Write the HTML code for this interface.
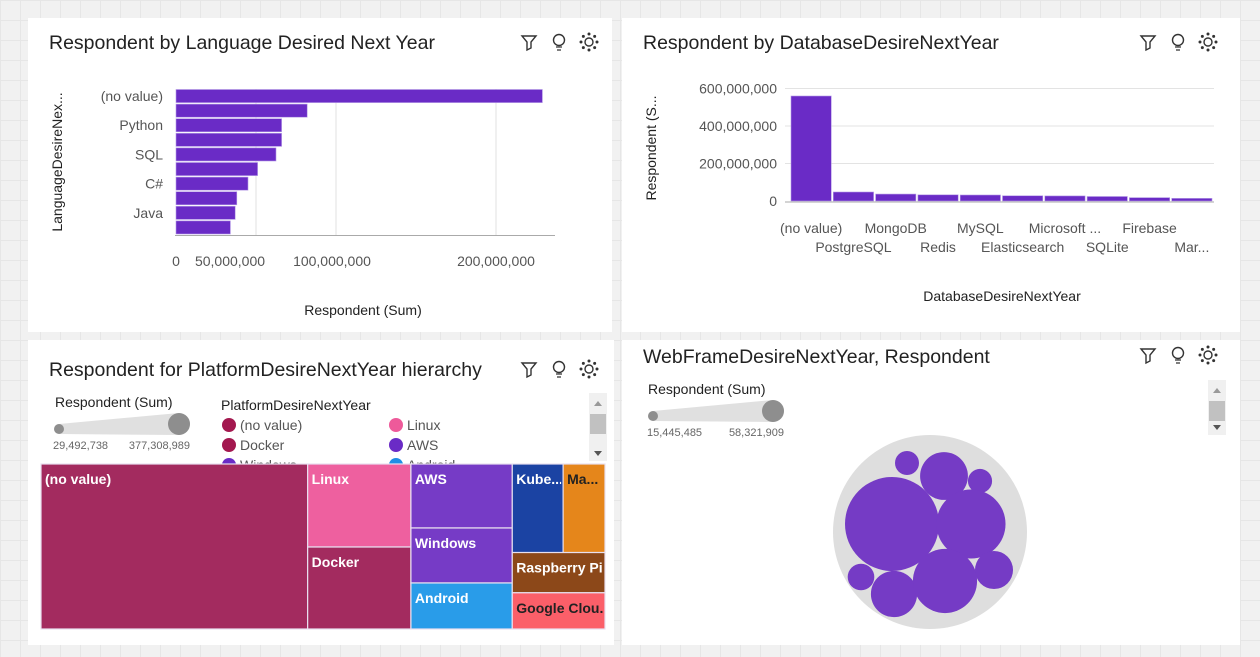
<!DOCTYPE html>
<html><head><meta charset="utf-8">
<style>
body{margin:0;width:1260px;height:657px;overflow:hidden;background:#f1f1f1;font-family:"Liberation Sans",sans-serif;
background-image:linear-gradient(#e6e6e6 1px,transparent 1px),linear-gradient(90deg,#e6e6e6 1px,transparent 1px);background-size:20px 20px;}
.panel{position:absolute;background:#fff}
svg{position:absolute;left:0;top:0}
text{font-family:"Liberation Sans",sans-serif}
</style></head><body>
<div class="panel" style="left:28px;top:18px;width:584px;height:314px"></div>
<div class="panel" style="left:622px;top:18px;width:618px;height:314px"></div>
<div class="panel" style="left:28px;top:340px;width:586px;height:305px"></div>
<div class="panel" style="left:622px;top:340px;width:618px;height:305px"></div>
<svg id="s" width="1260" height="657"><defs id="defs"></defs></svg>
<script>
// ---- data ----
const langCats=["(no value)","","Python","","SQL","","C#","","Java",""];
const langVals=[229,82,66,66,62.5,51,45,38,37,34];
const langTicks=[0,50,100,200];
const langTickLabels=["0","50,000,000","100,000,000","200,000,000"];
const dbCats=["(no value)","PostgreSQL","MongoDB","Redis","MySQL","Elasticsearch","Microsoft ...","SQLite","Firebase","Mar..."];
const dbVals=[560,48,37,33,32,28,27,24,18,14];
const dbTicks=[0,200,400,600];
const dbTickLabels=["0","200,000,000","400,000,000","600,000,000"];
const tmCats=["(no value)","Linux","Docker","AWS","Windows","Android","Kube...","Ma...","Raspberry Pi","Google Clou..."];
const tmVals=[377.3,73.5,72.6,55.6,47.8,40,38.6,31.8,32,28.8];
const tmColors=["#a32b5f","#ee609f","#a32b5f","#763bc6","#763bc6","#299ce9","#1b43a3","#e5861b","#8c4819","#fb5f69"];
const bubbleVals=[58.3,15.4,30,15.5,43,17,29,40,24];
const bubbleLayout=[[892,524],[907,463],[944,476],[980,481],[971,524],[861,577],[894,594],[945,581],[994,570]];

const S=document.getElementById('s');const NS='http://www.w3.org/2000/svg';const D=document.getElementById('defs');
function el(t,a,txt,par){const e=document.createElementNS(NS,t);for(const k in a)e.setAttribute(k,a[k]);if(txt!==undefined)e.textContent=txt;(par||S).appendChild(e);return e;}
function T(x,y,s,o){o=o||{};const e=el('text',{x:x,y:y,'font-size':o.fs||12,fill:o.fill||'#555','text-anchor':o.a||'start','font-weight':o.w||'normal'},s);if(o.tr)e.setAttribute('transform',o.tr);return e;}

[["Respondent by Language Desired Next Year",49,49,'lang-title'],["Respondent by DatabaseDesireNextYear",643,49,'db-title'],
 ["Respondent for PlatformDesireNextYear hierarchy",49,376,'platform-title'],["WebFrameDesireNextYear, Respondent",643,363,'webframe-title']].forEach(t=>{
 const e=T(t[1],t[2],t[0],{fs:19.5,fill:'#222'});
 
 
});
function icons(x,y,p){
 const f=el('path',{d:`M${x-7} ${y-6}h14l-5 6v6l-4 2v-8z`,fill:'none',stroke:'#333','stroke-width':1.4});
 
 
 const b=el('circle',{cx:x+30,cy:y-2,r:5.5,fill:'none',stroke:'#333','stroke-width':1.4});
 
 
 el('path',{d:`M${x+27} ${y+5}h6M${x+28} ${y+8}h4`,stroke:'#333','stroke-width':1.3});
 const g=el('circle',{cx:x+60,cy:y,r:4,fill:'none',stroke:'#333','stroke-width':1.4});
 
 
 for(let i=0;i<8;i++){const a=i*Math.PI/4;el('circle',{cx:x+60+8*Math.cos(a),cy:y+8*Math.sin(a),r:1.5,fill:'#333'});}
}
icons(529,42,'lang');icons(1148,42,'db');icons(529,369,'platform');icons(1148,355,'webframe');

// ---- language bar chart ----
const lx=v=>176+v*80/50; const bandTop=89,band=14.6;
langTicks.forEach((t,i)=>{ if(t>0) el('line',{x1:lx(t),x2:lx(t),y1:89,y2:235,stroke:'#e0e0e0'});
 const l=T(lx(t)+(i==1?-26:i==2?-4:0),266,langTickLabels[i],{fs:14,a:'middle'});
 
 });
langVals.forEach((v,i)=>{const r=el('rect',{x:176,y:bandTop+i*band+0.5,width:lx(v)-176,height:band-1.5,fill:'#6a2bc6',stroke:'#b49ae6','stroke-width':0.6});
 
 
 if(langCats[i]){const l=T(163,bandTop+i*band+12,langCats[i],{fs:14,a:'end'});
 
 }});
el('line',{x1:175,x2:555,y1:235.5,y2:235.5,stroke:'#aaa'});
let e=T(363,315,"Respondent (Sum)",{fs:14,fill:'#222',a:'middle'});


e=T(62,162,"LanguageDesireNex...",{fs:14,fill:'#222',a:'middle',tr:'rotate(-90 62 162)'});



// ---- database bar chart ----
const dy=v=>201-v*37.5/200; const dx0=790,dw=42.3;
dbTicks.forEach((t,i)=>{ if(t>0) el('line',{x1:785,x2:1214,y1:dy(t),y2:dy(t),stroke:'#e3e3e3'});
 const l=T(777,dy(t)+5,dbTickLabels[i],{fs:14,a:'end'});
 
 });
dbVals.forEach((v,i)=>{const r=el('rect',{x:dx0+i*dw+1,y:dy(v),width:dw-2,height:201-dy(v),fill:'#6a2bc6',stroke:'#b49ae6','stroke-width':0.6});
 
 
 const l=T(dx0+(i+0.5)*dw,i%2?252:233,dbCats[i],{fs:14,a:'middle'});
 
 });
el('line',{x1:785,x2:1214,y1:202,y2:202,stroke:'#aaa'});
e=T(1002,301,"DatabaseDesireNextYear",{fs:14,fill:'#222',a:'middle'});


e=T(656,148,"Respondent (S...",{fs:14,fill:'#222',a:'middle',tr:'rotate(-90 656 148)'});



// ---- size legends ----
function sizeLegend(x,y,lo,hi,p){
 el('path',{d:`M${x} ${y-5}L${x+120} ${y-16}A11 11 0 0 1 ${x+120} ${y+6}L${x} ${y+5}Z`,fill:'#e0e0e0'});
 el('circle',{cx:x,cy:y,r:5,fill:'#8e8e8e'});el('circle',{cx:x+120,cy:y-5,r:11,fill:'#8e8e8e'});
 const a=T(x-6,y+20,lo,{fs:11,fill:'#666'});
 const b=T(x+131,y+20,hi,{fs:11,fill:'#666',a:'end'});
}
e=T(55,407,"Respondent (Sum)",{fs:14,fill:'#222'});
sizeLegend(59,429,"29,492,738","377,308,989",'platform');
e=T(648,394,"Respondent (Sum)",{fs:14,fill:'#222'});
sizeLegend(653,416,"15,445,485","58,321,909",'webframe');
e=T(221,410,"PlatformDesireNextYear",{fs:14,fill:'#222'});
[[229,425,"#a3184f","(no value)"],[396,425,"#ee5a9a","Linux"],[229,445,"#a3184f","Docker"],[396,445,"#6a2bc6","AWS"],[229,465,"#6a2bc6","Windows"],[396,465,"#1f8ee6","Android"]].forEach(d=>{
 el('circle',{cx:d[0],cy:d[1],r:7,fill:d[2]});const l=T(d[0]+11,d[1]+5,d[3],{fs:14,fill:'#555'});
 
 });
function scroll(x,y,h,p){const r=el('rect',{x:x,y:y,width:18,height:h,fill:'#f0f0f0'});
 
 
 el('rect',{x:x+1,y:y+21,width:16,height:20,fill:'#c1c1c1'});
 el('path',{d:`M${x+5} ${y+13}l4-5l4 5z`,fill:'#999'});el('path',{d:`M${x+5} ${y+h-10}l4 5l4-5z`,fill:'#555'});}
scroll(589,393,68,'platform');scroll(1208,380,55,'webframe');

// ---- treemap ----
const TX=41,TY=464,TW=564,TH=165;
const total=tmVals.reduce((a,b)=>a+b,0);
const cols=[[0],[1,2],[3,4,5],[6,7,8,9]];
let cx=TX;
cols.forEach(c=>{const sum=c.reduce((a,i)=>a+tmVals[i],0);const w=TW*sum/total;
 const cells=[];
 if(c.length===4){const top=tmVals[6]+tmVals[7];const h0=TH*top/sum;
  cells.push([6,cx,TY,w*tmVals[6]/top,h0]);cells.push([7,cx+w*tmVals[6]/top,TY,w*tmVals[7]/top,h0]);
  let y=TY+h0;[8,9].forEach(i=>{const h=TH*tmVals[i]/sum;cells.push([i,cx,y,w,h]);y+=h;});}
 else{let y=TY;c.forEach(i=>{const h=TH*tmVals[i]/sum;cells.push([i,cx,y,w,h]);y+=h;});}
 cells.forEach(([i,x,y,w2,h])=>{const r=el('rect',{x:x,y:y,width:w2,height:h,fill:tmColors[i],stroke:'#e8e0f0','stroke-width':1.2});
  
  
  const cp=el('clipPath',{id:'tc'+i},undefined,D);el('rect',{x:x,y:y,width:w2-2,height:h},undefined,cp);
  const l=T(x+4,y+20,tmCats[i],{fs:14,w:'bold',fill:(i==7||i==9)?'#222':'#fff'});
  l.setAttribute('clip-path','url(#tc'+i+')');
  
  });
 cx+=w;});

// ---- bubbles ----
const vmin=Math.min(...bubbleVals),vmax=Math.max(...bubbleVals);
const rs=v=>12+(v-vmin)/(vmax-vmin)*35;
e=el('circle',{cx:930,cy:532,r:97,fill:'#dedede'});


bubbleVals.forEach((v,i)=>{const c=el('circle',{cx:bubbleLayout[i][0],cy:bubbleLayout[i][1],r:rs(v),fill:'#753bc5'});
 
 });
</script>
</body></html>
